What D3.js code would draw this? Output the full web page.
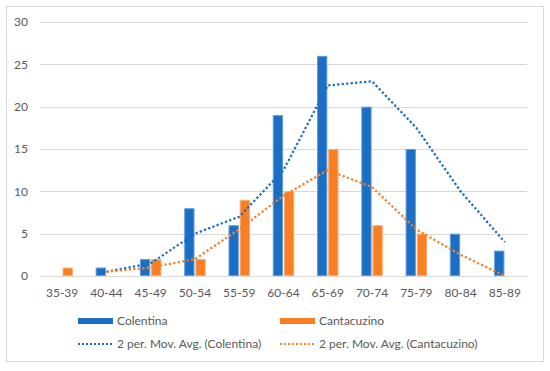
<!DOCTYPE html>
<html>
<head>
<meta charset="utf-8">
<script src="https://cdn.jsdelivr.net/npm/d3@7"></script>
<style>
  body { margin: 0; background: #fff; }
  svg { display: block; font-family: Lato, "Open Sans", sans-serif; }
</style>
</head>
<body>
<svg id="chart" width="550" height="371"></svg>
<script>
const categories = ["35-39","40-44","45-49","50-54","55-59","60-64","65-69","70-74","75-79","80-84","85-89"]
const colentina = [0,1,2,8,6,19,26,20,15,5,3]
const cantacuzino = [1,0,2,2,9,10,15,6,5,0,0]
// 2 period moving averages, start at 2nd category
const colentinaAvg = [0.5,1.5,5,7,12.5,22.5,23,17.5,10,4]
const cantacuzinoAvg = [0.5,1,2,5.5,9.5,12.5,10.5,5.5,2.5,0]
const yTicks = [0,5,10,15,20,25,30]
const seriesNames = ["Colentina","Cantacuzino"]
const avgNames = ["2 per. Mov. Avg. (Colentina)","2 per. Mov. Avg. (Cantacuzino)"]

const colors = ["#1b6ec2","#fb7e23"]
const strokes = ["#5c9ee0","#fdae72"]
const textColor = "#595959"

const svg = d3.select('#chart')
const W = 550, H = 371
const m = {left: 40, right: 23, top: 22, bottom: 95}

// outer frame
svg.append('rect')
  .attr('x',6.5).attr('y',6.5)
  .attr('width',537).attr('height',355)
  .attr('fill','#fff').attr('stroke','#d9d9d9')

const x0 = d3.scaleBand().domain(categories).range([m.left, W-m.right]).paddingInner(0.515).paddingOuter(0.2575)
const x1 = d3.scaleBand().domain(seriesNames).range([0, x0.bandwidth()]).paddingInner(0.08)
const y = d3.scaleLinear().domain([0,30]).range([H-m.bottom, m.top])

// gridlines
svg.append('g')
  .selectAll('line')
  .data(yTicks)
  .join('line')
  .attr('x1',m.left).attr('x2',W-m.right)
  .attr('y1',d=>Math.round(y(d))+0.5).attr('y2',d=>Math.round(y(d))+0.5)
  .attr('stroke','#d9d9d9').attr('stroke-width',1)

// y labels
svg.append('g')
  .selectAll('text')
  .data(yTicks)
  .join('text')
  .attr('x',28).attr('y',d=>y(d))
  .attr('dy','0.35em')
  .attr('text-anchor','end')
  .attr('fill',textColor)
  .style('font-size','12px')
  .text(d=>d)

// x labels
svg.append('g')
  .selectAll('text')
  .data(categories)
  .join('text')
  .attr('x',d=>x0(d)+x0.bandwidth()/2)
  .attr('y',H-m.bottom+17)
  .attr('dy','0.35em')
  .attr('text-anchor','middle')
  .attr('fill',textColor)
  .style('font-size','12px')
  .text(d=>d)

// bars
const allSeries = [colentina, cantacuzino]
allSeries.forEach((vals,si)=>{
  svg.append('g')
    .selectAll('rect')
    .data(vals.map((v,i)=>({cat:categories[i], v})).filter(d=>d.v>0))
    .join('rect')
    .attr('x',d=>x0(d.cat)+x1(seriesNames[si])+0.5)
    .attr('y',d=>y(d.v)+0.5)
    .attr('width',x1.bandwidth()-1)
    .attr('height',d=>y(0)-y(d.v)-1)
    .attr('fill',colors[si])
    .attr('stroke',strokes[si])
    .attr('stroke-width',1)
})

// moving average lines
const cx = d=>x0(d)+x0.bandwidth()/2
const lineGen = d3.line().x(d=>cx(d.cat)).y(d=>y(d.v))
const avgs = [colentinaAvg, cantacuzinoAvg]
avgs.forEach((vals,si)=>{
  const pts = vals.map((v,i)=>({cat:categories[i+1], v}))
  svg.append('path')
    .datum(pts)
    .attr('d',lineGen)
    .attr('fill','none')
    .attr('stroke',colors[si])
    .attr('stroke-width',2.25)
    .attr('stroke-dasharray','2.25,2.25')
})

// legend
const legend = svg.append('g')
const legX = [78, 280]
seriesNames.forEach((n,i)=>{
  legend.append('rect')
    .attr('x',legX[i]).attr('y',318).attr('width',35).attr('height',6)
    .attr('fill',colors[i])
  legend.append('text')
    .attr('x',legX[i]+39).attr('y',321).attr('dy','0.35em')
    .attr('fill',textColor).style('font-size','12px')
    .text(n)
})
avgNames.forEach((n,i)=>{
  legend.append('line')
    .attr('x1',legX[i]).attr('x2',legX[i]+35)
    .attr('y1',344).attr('y2',344)
    .attr('stroke',colors[i]).attr('stroke-width',2)
    .attr('stroke-dasharray','2,2')
  legend.append('text')
    .attr('x',legX[i]+39).attr('y',344).attr('dy','0.35em')
    .attr('fill',textColor).style('font-size','12px')
    .text(n)
})
</script>
</body>
</html>
